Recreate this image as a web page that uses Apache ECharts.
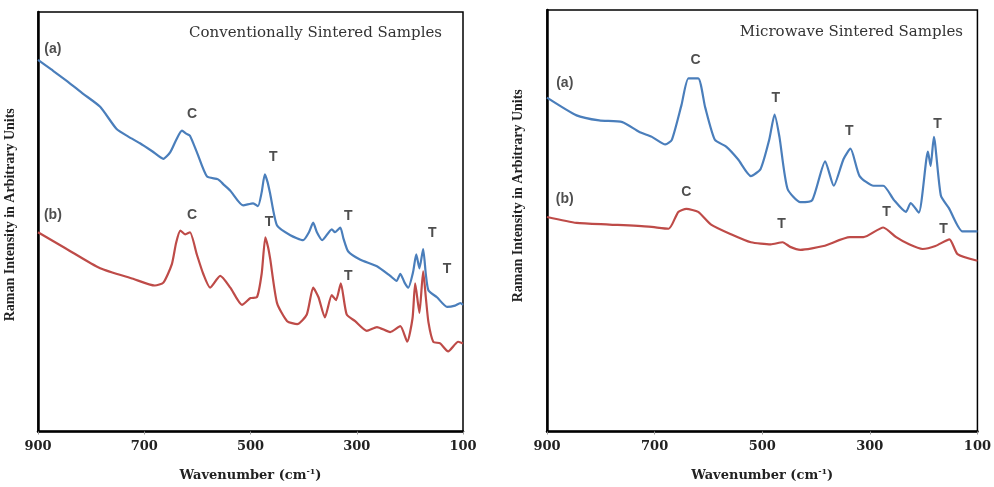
<!DOCTYPE html>
<html>
<head>
<meta charset="utf-8">
<script src="https://cdn.jsdelivr.net/npm/echarts@6/dist/echarts.min.js"></script>
<style>html,body{margin:0;padding:0;background:#fff;overflow:hidden}#c{width:994px;height:487px}</style>
</head>
<body>
<div id="c"></div>
<script>
// Wavenumber ticks
var xTicks = [900, 700, 500, 300, 100];
var panelTitles = ['Conventionally Sintered Samples', 'Microwave Sintered Samples'];
var xAxisTitle = 'Wavenumber';
var yAxisTitle = 'Raman Intensity in Arbitrary Units';

// Conventionally sintered, sample (a)
var convA_wn = [900,875,846,815,783,752,730,708,685,664,651,640,629,621,614,601,582,561,550,538,514,495,486,479,473,468,463,450,425,401,390,382,375,365,347,341,331,325,316,294,262,237,225,218,210,203,194,188,182,175,170,165,149,130,115,105,100];
var convA_I  = [88.6,86.3,83.6,80.5,77.4,72.1,70.3,68.7,66.8,65.0,66.6,69.5,71.7,71.0,70.5,66.6,60.8,60.1,58.8,57.4,53.9,54.4,53.7,57.0,61.3,59.5,56.7,49.1,46.8,45.6,47.5,49.8,47.5,45.6,48.2,47.5,48.6,46.0,42.9,41.0,39.4,37.1,35.9,37.6,35.5,34.3,38.0,42.2,38.9,43.5,37.5,33.6,32.0,29.7,30.0,30.6,30.2];
// Conventionally sintered, sample (b)
var convB_wn = [900,846,783,721,680,664,648,640,632,623,614,601,589,576,557,538,516,500,488,479,472,467,463,450,431,412,394,382,372,360,347,339,330,319,303,281,262,237,218,205,195,190,182,175,170,165,156,143,128,109,100];
var convB_I  = [47.5,43.5,38.9,36.4,34.8,35.5,39.9,45.0,47.9,47.0,47.5,42.2,37.6,34.3,37.1,34.3,30.2,31.8,32.0,37.6,46.3,44.0,41.2,30.6,26.3,25.6,27.9,34.3,32.0,27.2,32.5,31.3,35.3,27.9,26.3,24.0,24.9,23.7,25.1,21.4,27.0,35.3,28.3,38.2,32.0,26.0,21.4,21.0,19.1,21.4,21.0];
// Microwave sintered, sample (a)
var micA_wn = [900,845,803,760,729,705,680,668,650,637,619,606,588,567,545,521,503,487,477,468,453,429,407,383,367,349,336,319,293,275,255,233,224,209,192,187,181,168,153,128,100];
var micA_I  = [79.2,75.0,73.8,73.4,71.1,69.9,68.1,69.2,77.5,83.8,83.8,76.9,69.2,67.6,64.6,60.6,62.3,69.2,75.2,69.9,57.6,54.4,54.9,64.1,58.3,64.6,67.1,60.6,58.3,58.3,54.9,52.1,54.2,51.9,66.4,63.0,69.9,56.0,53.0,47.5,47.5];
// Microwave sintered, sample (b)
var micB_wn = [900,845,784,711,674,656,641,619,595,558,521,484,462,448,429,386,337,312,275,251,227,202,178,152,137,100];
var micB_I  = [50.9,49.5,49.1,48.6,48.1,52.1,52.8,52.1,49.1,46.8,44.9,44.4,44.9,43.8,43.1,44.0,46.1,46.1,48.4,46.1,44.4,43.3,44.0,45.6,42.1,40.5];

// Annotation labels: [wavenumber, intensity, text]
var convLabels = [[872,91.2,'(a)'],[610,75.6,'C'],[457,65.4,'T'],[872,51.6,'(b)'],[610,51.6,'C'],[465,49.8,'T'],[316,51.4,'T'],[158,47.2,'T'],[316,37.1,'T'],[130,38.7,'T']];
var micLabels  = [[867,82.6,'(a)'],[624,88.0,'C'],[475,79.2,'T'],[338,71.3,'T'],[174,72.9,'T'],[867,55.1,'(b)'],[641,56.7,'C'],[464,49.3,'T'],[269,52.1,'T'],[163,47.9,'T']];

function pairs(xs, ys){ return xs.map(function(x,i){ return [x, ys[i]]; }); }

var BLUE = '#4a7ebb', RED = '#be4b48';
var serif = '"Liberation Serif","DejaVu Serif",serif';
var wideSerif = '"DejaVu Serif","Liberation Serif",serif';
var sans = '"Liberation Sans","DejaVu Sans",sans-serif';

var grids = [
  {left:38, right:531, top:12, bottom:41, show:true, borderColor:'#000', borderWidth:1.5, backgroundColor:'#fff'},
  {left:547, right:12, top:10, bottom:45, show:true, borderColor:'#000', borderWidth:1.5, backgroundColor:'#fff'}
];

function xAxisFor(i){
  return {
    gridIndex:i, type:'value', inverse:true, min:100, max:900, interval:200,
    name: '{t|' + xAxisTitle + ' (cm}{s|-1}{t|)}',
    nameLocation:'middle', nameGap: 36,
    nameTextStyle:{ rich:{
      t:{fontFamily:wideSerif, fontWeight:'bold', fontSize:13, color:'#222'},
      s:{fontFamily:wideSerif, fontWeight:'bold', fontSize:8, color:'#222', verticalAlign:'top', padding:[0,0,8,0]}
    }},
    axisLine:{show:true, lineStyle:{color:'#000', width:2.5}},
    axisTick:{show:true, inside:false, length:3, lineStyle:{color:'#999', width:1}},
    axisLabel:{fontFamily:wideSerif, fontWeight:'bold', fontSize:13, color:'#222', margin:9,
      formatter:function(v){ return xTicks.indexOf(v) >= 0 ? String(v) : ''; }},
    splitLine:{show:false}
  };
}
function yAxisFor(i){
  return {
    gridIndex:i, type:'value', min:0, max:100,
    name: yAxisTitle, nameLocation:'middle', nameGap: i===0 ? 21 : 22,
    nameTextStyle:{fontFamily:serif, fontWeight:'bold', fontSize:14, color:'#222',
      padding: i===0 ? [0,0,0,14] : [0,0,0,50]},
    axisLine:{show:true, lineStyle:{color:'#000', width:2.5}},
    axisTick:{show:false}, axisLabel:{show:false}, splitLine:{show:false}
  };
}
function lineSeries(i, data, color){
  return {type:'line', xAxisIndex:i, yAxisIndex:i, data:data, showSymbol:false, symbol:'none',
    smooth:0.2, lineStyle:{color:color, width:2.2}, silent:true, z:3};
}
function labelSeries(i, labels){
  return {type:'scatter', xAxisIndex:i, yAxisIndex:i, symbolSize:1, itemStyle:{color:'transparent'},
    data: labels.map(function(l){ return {value:[l[0], l[1]], name:l[2]}; }),
    label:{show:true, position:'inside', formatter:function(p){ return p.name; },
      fontFamily:sans, fontWeight:'bold', fontSize:14, color:'#222'},
    silent:true, z:5};
}

var chart = echarts.init(document.getElementById('c'), null, {renderer:'canvas'});
chart.setOption({
  animation:false,
  backgroundColor:'#fff',
  title:[
    {text:panelTitles[0], right:547, top:21, textStyle:{fontFamily:wideSerif, fontWeight:'normal', fontSize:15, color:'#333'}},
    {text:panelTitles[1], right:26, top:20, textStyle:{fontFamily:wideSerif, fontWeight:'normal', fontSize:15, color:'#333'}}
  ],
  grid: grids,
  xAxis:[xAxisFor(0), xAxisFor(1)],
  yAxis:[yAxisFor(0), yAxisFor(1)],
  series:[
    lineSeries(0, pairs(convA_wn, convA_I), BLUE),
    lineSeries(0, pairs(convB_wn, convB_I), RED),
    lineSeries(1, pairs(micA_wn, micA_I), BLUE),
    lineSeries(1, pairs(micB_wn, micB_I), RED),
    labelSeries(0, convLabels),
    labelSeries(1, micLabels)
  ]
});
</script>
</body>
</html>
